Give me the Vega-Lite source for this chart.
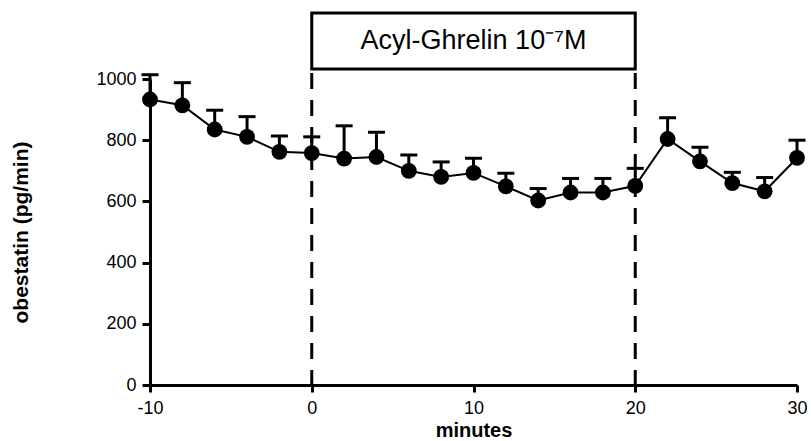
{
  "$schema": "https://vega.github.io/schema/vega-lite/v6.json",
  "width": 647,
  "height": 306,
  "autosize": "none",
  "padding": {"left": 150, "top": 79, "right": 14, "bottom": 56},
  "background": "white",
  "config": {
    "view": {"stroke": null},
    "font": "Liberation Sans"
  },
  "data": {
    "values": [
      {"minutes": -10, "value": 933, "upper": 1014},
      {"minutes": -8, "value": 914, "upper": 988},
      {"minutes": -6, "value": 835, "upper": 898},
      {"minutes": -4, "value": 811, "upper": 877},
      {"minutes": -2, "value": 762, "upper": 814},
      {"minutes": 0, "value": 758, "upper": 811},
      {"minutes": 2, "value": 740, "upper": 847},
      {"minutes": 4, "value": 745, "upper": 826},
      {"minutes": 6, "value": 700, "upper": 752},
      {"minutes": 8, "value": 680, "upper": 729},
      {"minutes": 10, "value": 693, "upper": 741},
      {"minutes": 12, "value": 649, "upper": 692},
      {"minutes": 14, "value": 603, "upper": 642},
      {"minutes": 16, "value": 629, "upper": 675},
      {"minutes": 18, "value": 629, "upper": 675},
      {"minutes": 20, "value": 651, "upper": 708},
      {"minutes": 22, "value": 804, "upper": 873},
      {"minutes": 24, "value": 731, "upper": 777},
      {"minutes": 26, "value": 660, "upper": 695},
      {"minutes": 28, "value": 633, "upper": 678},
      {"minutes": 30, "value": 742, "upper": 800}
    ]
  },
  "layer": [
    {
      "mark": {"type": "line", "color": "black", "strokeWidth": 2},
      "encoding": {
        "x": {
          "field": "minutes",
          "type": "quantitative",
          "scale": {"domain": [-10, 30], "nice": false, "zero": false},
          "axis": {
            "title": "minutes",
            "values": [-10, 0, 10, 20, 30],
            "labelExpr": "'' + datum.value",
            "labelFlush": false,
            "labelOverlap": false,
            "grid": false,
            "domainColor": "black",
            "domainWidth": 3,
            "tickColor": "black",
            "tickWidth": 3,
            "tickSize": 7,
            "labelFontSize": 18,
            "labelColor": "black",
            "labelPadding": 7,
            "titleFontSize": 20,
            "titleFontWeight": "bold",
            "titleColor": "black",
            "titlePadding": 3
          }
        },
        "y": {
          "field": "value",
          "type": "quantitative",
          "scale": {"domain": [0, 1000], "nice": false},
          "axis": {
            "title": "obestatin (pg/min)",
            "values": [0, 200, 400, 600, 800, 1000],
            "labelExpr": "'' + datum.value",
            "labelFlush": false,
            "grid": false,
            "domainColor": "black",
            "domainWidth": 3,
            "tickColor": "black",
            "tickWidth": 3,
            "tickSize": 8,
            "labelFontSize": 18,
            "labelColor": "black",
            "labelPadding": 6,
            "titleFontSize": 21,
            "titleFontWeight": "bold",
            "titleColor": "black",
            "titlePadding": 64
          }
        }
      }
    },
    {
      "data": {"values": [{"minutes": 0}, {"minutes": 20}]},
      "mark": {"type": "rule", "color": "black", "strokeWidth": 3, "strokeDash": [16, 11]},
      "encoding": {
        "x": {"field": "minutes", "type": "quantitative"},
        "y": {"datum": 1020, "type": "quantitative"},
        "y2": {"datum": 0}
      }
    },
    {
      "data": {"values": [{"start": 0, "end": 20}]},
      "mark": {"type": "rect", "fill": "white", "stroke": "black", "strokeWidth": 3, "clip": false},
      "encoding": {
        "x": {"field": "start", "type": "quantitative"},
        "x2": {"field": "end"},
        "y": {"datum": 1033, "type": "quantitative"},
        "y2": {"datum": 1216}
      }
    },
    {
      "data": {"values": [{"label": "Acyl-Ghrelin 10⁻⁷M", "mid": 10}]},
      "mark": {"type": "text", "fontSize": 27, "color": "black", "align": "center", "baseline": "middle"},
      "encoding": {
        "x": {"field": "mid", "type": "quantitative"},
        "y": {"datum": 1125, "type": "quantitative"},
        "text": {"field": "label"}
      }
    },
    {
      "mark": {"type": "rule", "color": "black", "strokeWidth": 3},
      "encoding": {
        "x": {"field": "minutes", "type": "quantitative"},
        "y": {"field": "value", "type": "quantitative"},
        "y2": {"field": "upper"}
      }
    },
    {
      "mark": {"type": "tick", "color": "black", "opacity": 1, "orient": "horizontal", "size": 17, "thickness": 3},
      "encoding": {
        "x": {"field": "minutes", "type": "quantitative"},
        "y": {"field": "upper", "type": "quantitative"}
      }
    },
    {
      "mark": {"type": "point", "filled": true, "color": "black", "opacity": 1, "size": 250},
      "encoding": {
        "x": {"field": "minutes", "type": "quantitative"},
        "y": {"field": "value", "type": "quantitative"}
      }
    }
  ]
}
